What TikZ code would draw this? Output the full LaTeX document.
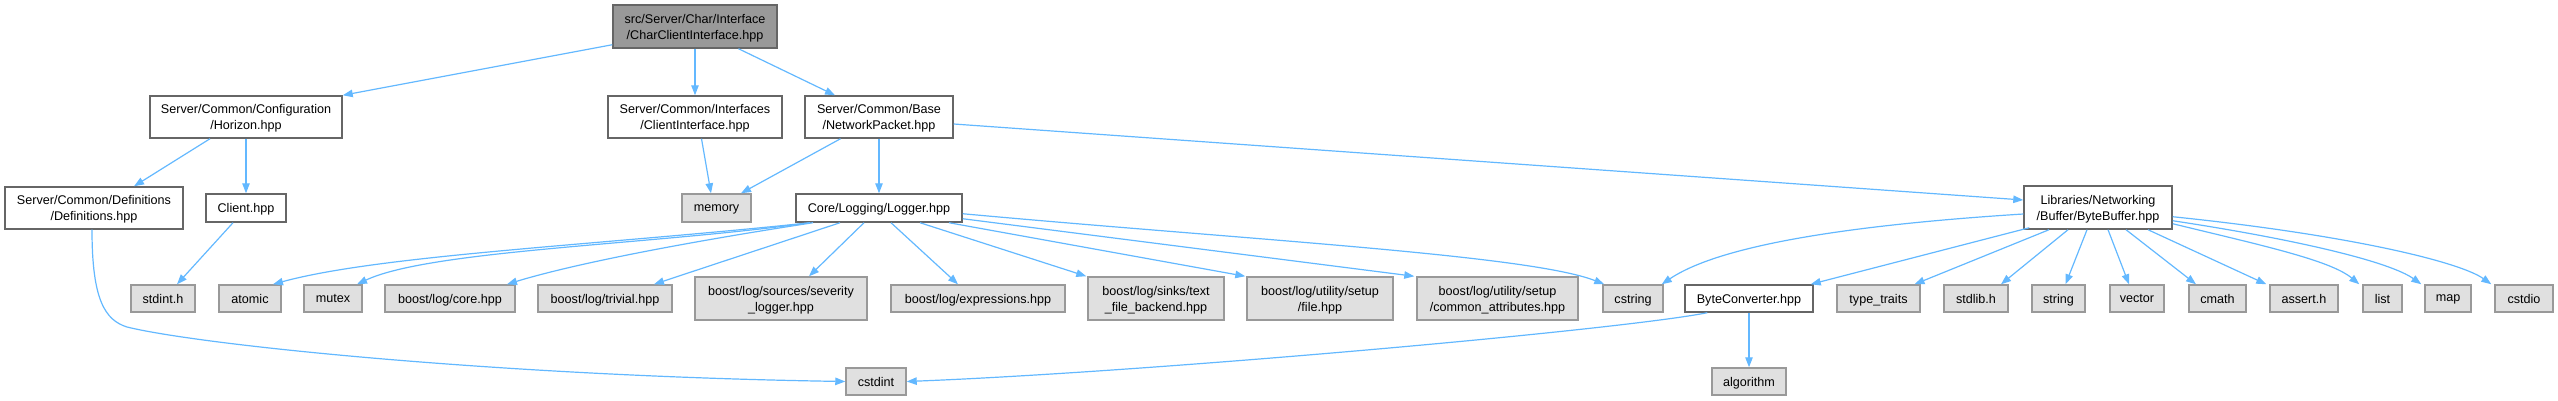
\documentclass[tikz,border=0pt]{standalone}
\usepackage{fontspec}
\setmainfont{Liberation Sans}
\usetikzlibrary{arrows.meta,calc}
\definecolor{edgeblue}{HTML}{63B8FF}
\definecolor{rootfill}{HTML}{999999}
\definecolor{darkborder}{HTML}{666666}
\definecolor{extfill}{HTML}{E0E0E0}
\definecolor{extborder}{HTML}{999999}
\begin{document}
\begin{tikzpicture}[x=0.75pt,y=-0.75pt,
  base/.style={draw, line width=1.1pt, inner sep=0pt, align=center,
    font=\fontsize{9.45}{12}\selectfont, text depth=0pt},
  rootnode/.style={base, fill=rootfill, draw=darkborder},
  filenode/.style={base, fill=white, draw=darkborder},
  extnode/.style={base, fill=extfill, draw=extborder},
  dep/.style={draw=edgeblue, line width=0.9pt,
    -{Triangle[length=7.5pt,width=5.6pt]}, edgeblue}]
\useasboundingbox (0,0) rectangle (2558,400);

% level 0
\node[rootnode, minimum width=164*0.75pt, minimum height=43*0.75pt] (root) at (695,26.5) {src/Server/Char/Interface\\/CharClientInterface.hpp};
% level 1
\node[filenode, minimum width=192*0.75pt, minimum height=42*0.75pt] (horizon) at (246,117) {Server/Common/Configuration\\/Horizon.hpp};
\node[filenode, minimum width=174*0.75pt, minimum height=42*0.75pt] (ci) at (695,117) {Server/Common/Interfaces\\/ClientInterface.hpp};
\node[filenode, minimum width=148*0.75pt, minimum height=42*0.75pt] (np) at (879,117) {Server/Common/Base\\/NetworkPacket.hpp};
% level 2
\node[filenode, minimum width=178*0.75pt, minimum height=42*0.75pt] (defs) at (94,208) {Server/Common/Definitions\\/Definitions.hpp};
\node[filenode, minimum width=80*0.75pt, minimum height=28*0.75pt] (client) at (246,208) {Client.hpp};
\node[extnode, minimum width=69*0.75pt, minimum height=28*0.75pt] (memory) at (716.5,208) {memory};
\node[filenode, minimum width=166*0.75pt, minimum height=28*0.75pt] (logger) at (879,208) {Core/Logging/Logger.hpp};
\node[filenode, minimum width=148*0.75pt, minimum height=43*0.75pt] (bb) at (2098,207.5) {Libraries/Networking\\/Buffer/ByteBuffer.hpp};
% level 3
\node[extnode, minimum width=64*0.75pt, minimum height=27*0.75pt] (stdinth) at (163,298.5) {stdint.h};
\node[extnode, minimum width=62*0.75pt, minimum height=27*0.75pt] (atomic) at (250,298.5) {atomic};
\node[extnode, minimum width=58*0.75pt, minimum height=27*0.75pt] (mutex) at (333,298.5) {mutex};
\node[extnode, minimum width=130*0.75pt, minimum height=27*0.75pt] (core) at (450,298.5) {boost/log/core.hpp};
\node[extnode, minimum width=134*0.75pt, minimum height=27*0.75pt] (trivial) at (605,298.5) {boost/log/trivial.hpp};
\node[extnode, minimum width=172*0.75pt, minimum height=43*0.75pt] (sev) at (781,298.5) {boost/log/sources/severity\\\_logger.hpp};
\node[extnode, minimum width=174*0.75pt, minimum height=27*0.75pt] (expr) at (978,298.5) {boost/log/expressions.hpp};
\node[extnode, minimum width=136*0.75pt, minimum height=43*0.75pt] (tfb) at (1156,298.5) {boost/log/sinks/text\\\_file\_backend.hpp};
\node[extnode, minimum width=146*0.75pt, minimum height=43*0.75pt] (file) at (1320,298.5) {boost/log/utility/setup\\/file.hpp};
\node[extnode, minimum width=161*0.75pt, minimum height=43*0.75pt] (common) at (1497.5,298.5) {boost/log/utility/setup\\/common\_attributes.hpp};
\node[extnode, minimum width=60*0.75pt, minimum height=27*0.75pt] (cstring) at (1633,298.5) {cstring};
\node[filenode, minimum width=128*0.75pt, minimum height=27*0.75pt] (bc) at (1749,298.5) {ByteConverter.hpp};
\node[extnode, minimum width=83*0.75pt, minimum height=27*0.75pt] (tt) at (1878.5,298.5) {type\_traits};
\node[extnode, minimum width=64*0.75pt, minimum height=27*0.75pt] (stdlib) at (1976,298.5) {stdlib.h};
\node[extnode, minimum width=53*0.75pt, minimum height=27*0.75pt] (string) at (2058.5,298.5) {string};
\node[extnode, minimum width=54*0.75pt, minimum height=27*0.75pt] (vector) at (2137,298.5) {vector};
\node[extnode, minimum width=57*0.75pt, minimum height=27*0.75pt] (cmath) at (2217.5,298.5) {cmath};
\node[extnode, minimum width=68*0.75pt, minimum height=27*0.75pt] (assert) at (2304,298.5) {assert.h};
\node[extnode, minimum width=39*0.75pt, minimum height=27*0.75pt] (list) at (2382.5,298.5) {list};
\node[extnode, minimum width=46*0.75pt, minimum height=27*0.75pt] (map) at (2448,298.5) {map};
\node[extnode, minimum width=58*0.75pt, minimum height=27*0.75pt] (cstdio) at (2524,298.5) {cstdio};
% level 4
\node[extnode, minimum width=60*0.75pt, minimum height=27*0.75pt] (cstdint) at (876,381.5) {cstdint};
\node[extnode, minimum width=74*0.75pt, minimum height=27*0.75pt] (algo) at (1749,381.5) {algorithm};

% edges from root
\draw[dep] ($(root.south west)+(0,-4)$) -- (horizon.north east);
\draw[dep] (root.south) -- (ci.north);
\draw[dep] ($(root.south)+(43.5,0)$) -- ($(np.north)+(-44,0)$);
% horizon
\draw[dep] ($(horizon.south)+(-36,0)$) -- ($(defs.north)+(40,0)$);
\draw[dep] (horizon.south) -- (client.north);
\draw[dep] ($(client.south)+(-13,0)$) -- ($(stdinth.north)+(14,0)$);
\draw[dep] ($(defs.south)+(-2,0)$) .. controls (92,300) and (105,320) .. (127,327)
  .. controls (200,345) and (500,376) .. (cstdint.west);
% client interface / network packet
\draw[dep] ($(ci.south)+(6.5,0)$) -- ($(memory.north)+(-5.5,0)$);
\draw[dep] ($(np.south)+(-38.5,0)$) -- ($(memory.north)+(24.5,0)$);
\draw[dep] (np.south) -- (logger.north);
\draw[dep] ($(np.east)+(0,7)$) -- ($(bb.west)+(0,-7.5)$);
% logger
\draw[dep] ($(logger.south)+(-69,0)$) .. controls (600,245) and (380,255) .. ($(atomic.north)+(23,0)$);
\draw[dep] ($(logger.south)+(-69,0)$) .. controls (650,245) and (430,250) .. ($(mutex.north)+(24,0)$);
\draw[dep] ($(logger.south)+(-66,0)$) .. controls (700,240) and (580,262) .. ($(core.north)+(57,0)$);
\draw[dep] ($(logger.south)+(-39,0)$) -- ($(trivial.north)+(49,0)$);
\draw[dep] ($(logger.south)+(-15,0)$) -- ($(sev.north)+(28,0)$);
\draw[dep] ($(logger.south)+(12,0)$) -- ($(expr.north)+(-20,0)$);
\draw[dep] ($(logger.south)+(41,0)$) -- ($(tfb.north west)+(-1,0)$);
\draw[dep] ($(logger.south)+(70,0)$) -- ($(file.north west)+(-1,0)$);
\draw[dep] ($(logger.south east)+(0,-4)$) -- ($(common.north west)+(-2,0)$);
\draw[dep] ($(logger.south east)+(0,-9)$) .. controls (1250,240) and (1530,255) .. ($(cstring.north west)+(2,0)$);
% byte buffer
\draw[dep] ($(bb.west)+(0,6.5)$) .. controls (1850,225) and (1720,245) .. ($(cstring.north east)+(-2,0)$);
\draw[dep] ($(bb.south west)+(6,-2)$) -- ($(bc.north east)+(-3,0)$);
\draw[dep] ($(bb.south)+(-49,0)$) -- ($(tt.north)+(36,0)$);
\draw[dep] ($(bb.south)+(-30,0)$) -- ($(stdlib.north)+(25,0)$);
\draw[dep] ($(bb.south)+(-11,0)$) -- ($(string.north)+(7,0)$);
\draw[dep] ($(bb.south)+(10,0)$) -- ($(vector.north)+(-8,0)$);
\draw[dep] ($(bb.south)+(28,0)$) -- ($(cmath.north)+(-21.5,0)$);
\draw[dep] ($(bb.south)+(50,0)$) -- ($(assert.north west)+(-3,0)$);
\draw[dep] ($(bb.south east)+(0,-6)$) .. controls (2260,245) and (2330,260) .. ($(list.north west)+(-3,0)$);
\draw[dep] ($(bb.south east)+(0,-9)$) .. controls (2300,240) and (2390,262) .. ($(map.north west)+(-3,0)$);
\draw[dep] ($(bb.south east)+(0,-13)$) .. controls (2350,235) and (2460,262) .. ($(cstdio.north west)+(-3,0)$);
% byte converter
\draw[dep] (bc.south) -- (algo.north);
\draw[dep] ($(bc.south west)+(23,0)$) .. controls (1620,330) and (1150,372) .. (cstdint.east);
\end{tikzpicture}
\end{document}
